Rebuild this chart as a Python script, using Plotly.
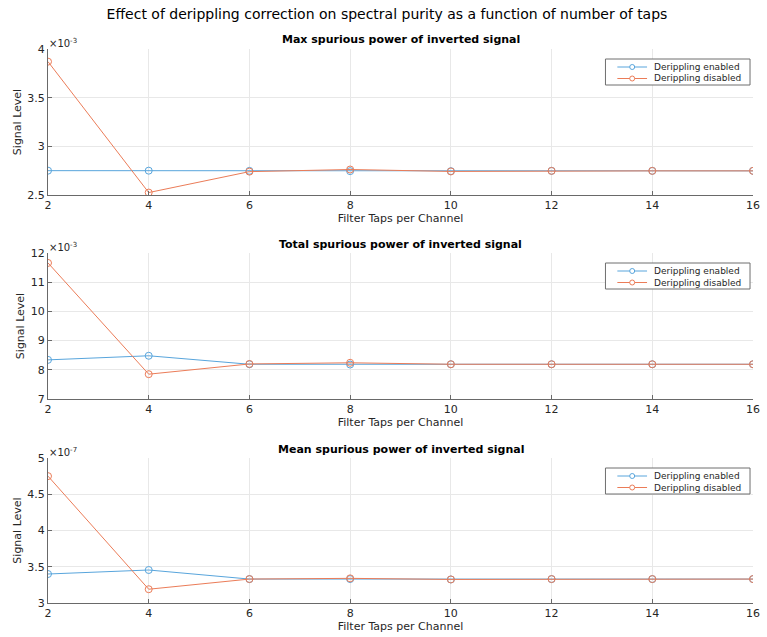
import plotly.graph_objects as go

taps = [2, 4, 6, 8, 10, 12, 14, 16]

# Max spurious power (x1e-3)
max_enabled = [2.750, 2.750, 2.748, 2.745, 2.745, 2.748, 2.748, 2.748]
max_disabled = [3.870, 2.525, 2.740, 2.762, 2.742, 2.748, 2.748, 2.748]
# Total spurious power (x1e-3)
tot_enabled = [8.34, 8.48, 8.19, 8.18, 8.19, 8.19, 8.19, 8.19]
tot_disabled = [11.66, 7.85, 8.20, 8.24, 8.19, 8.19, 8.19, 8.19]
# Mean spurious power (x1e-7)
mean_enabled = [3.40, 3.455, 3.33, 3.33, 3.325, 3.33, 3.33, 3.33]
mean_disabled = [4.75, 3.19, 3.33, 3.34, 3.325, 3.33, 3.33, 3.33]

titles = ["Max spurious power of inverted signal",
          "Total spurious power of inverted signal",
          "Mean spurious power of inverted signal"]
exponents = ["-3", "-3", "-7"]
yranges = [[2.5, 4], [7, 12], [3, 5]]
ytickvals = [[2.5, 3, 3.5, 4], [7, 8, 9, 10, 11, 12], [3, 3.5, 4, 4.5, 5]]
yticktext = [["2.5", "3", "3.5", "4"], ["7", "8", "9", "10", "11", "12"], ["3", "3.5", "4", "4.5", "5"]]
xticks = [2, 4, 6, 8, 10, 12, 14, 16]
legend_names = ["Derippling enabled", "Derippling disabled"]

series = [(max_enabled, max_disabled), (tot_enabled, tot_disabled), (mean_enabled, mean_disabled)]

BLUE = "rgb(88,165,220)"
ORANGE = "rgb(235,124,88)"
FONT = "DejaVu Sans"
TXT = "rgb(38,38,38)"
AX = "rgb(105,105,105)"
GRID = "rgb(232,232,232)"

W, H = 767, 637
AX_L, AX_R = 48, 760           # x of plot area
tops = [49, 253, 458]           # y of axis tops
bots = [195, 399, 603]          # y of axis bottoms
L = AX_L
R = W - AX_R
T = tops[0]
B = H - bots[2]
pw = W - L - R
ph = H - T - B

def sx(x):  # pixel x -> paper
    return (x - L) / pw

def sy(y):  # pixel y -> paper
    return (H - B - y) / ph

fig = go.Figure()
layout = dict(
    width=W, height=H,
    margin=dict(l=L, r=R, t=T, b=B),
    paper_bgcolor="white", plot_bgcolor="white",
    font=dict(family=FONT, size=11, color=TXT),
    showlegend=False,
)
annotations = []
shapes = []
colors = [BLUE, ORANGE]
for i in range(3):
    n = i + 1
    xa = "x" if n == 1 else f"x{n}"
    ya = "y" if n == 1 else f"y{n}"
    for k, vals in enumerate(series[i]):
        fig.add_trace(go.Scatter(x=taps, y=vals, mode="lines+markers", name=legend_names[k],
                                 line=dict(color=colors[k], width=1),
                                 marker=dict(symbol="circle-open", size=7, color=colors[k],
                                             line=dict(width=1)),
                                 xaxis=xa, yaxis=ya))
    xkey = "xaxis" if n == 1 else f"xaxis{n}"
    ykey = "yaxis" if n == 1 else f"yaxis{n}"
    layout[xkey] = dict(domain=[0, 1], anchor=ya, range=[2, 16], tickvals=xticks,
                        showgrid=True, gridcolor=GRID, zeroline=False,
                        showline=True, linecolor=AX, linewidth=1, mirror=False,
                        ticks="inside", ticklen=4, tickcolor=AX,
                        tickfont=dict(size=11, color=TXT),
                        title=dict(text="Filter Taps per Channel", standoff=0,
                                   font=dict(size=11, color=TXT)))
    layout[ykey] = dict(domain=[sy(bots[i]), sy(tops[i])], anchor=xa, range=yranges[i],
                        tickvals=ytickvals[i], ticktext=yticktext[i],
                        showgrid=True, gridcolor=GRID, zeroline=False,
                        showline=True, linecolor=AX, linewidth=1, mirror=False,
                        ticks="inside", ticklen=4, tickcolor=AX,
                        tickfont=dict(size=11, color=TXT),
                        title=dict(text="Signal Level", standoff=3,
                                   font=dict(size=11, color=TXT)))
    annotations.append(dict(text=f"<b>{titles[i]}</b>", x=0.5, y=sy(tops[i] - 9), xref="paper", yref="paper",
                            xanchor="center", yanchor="middle", showarrow=False,
                            font=dict(size=11, color="black")))
    annotations.append(dict(text=f"\u00d710<sup>{exponents[i]}</sup>", x=sx(AX_L - 1), y=sy(tops[i] - 6),
                            xref="paper", yref="paper",
                            xanchor="left", yanchor="middle", showarrow=False,
                            font=dict(size=10, color=TXT)))
    # legend box drawn inside each panel
    bx0, bx1 = 611, 757
    by0 = tops[i] + 10
    by1 = by0 + 26
    shapes.append(dict(type="rect", xref="paper", yref="paper",
                       x0=sx(bx0), x1=sx(bx1), y0=sy(by1), y1=sy(by0),
                       line=dict(color="rgb(110,110,110)", width=1), fillcolor="white", layer="above"))
    for k in range(2):
        cy = by0 + 8 + 11.5 * k
        shapes.append(dict(type="line", xref="paper", yref="paper",
                           x0=sx(bx0 + 12), x1=sx(bx0 + 42), y0=sy(cy), y1=sy(cy),
                           line=dict(color=colors[k], width=1), layer="above"))
        shapes.append(dict(type="circle", xref="paper", yref="paper",
                           x0=sx(bx0 + 27 - 2.5), x1=sx(bx0 + 27 + 2.5), y0=sy(cy + 2.5), y1=sy(cy - 2.5),
                           line=dict(color=colors[k], width=1), fillcolor="white", layer="above"))
        annotations.append(dict(text=legend_names[k], x=sx(bx0 + 47), y=sy(cy), xref="paper", yref="paper",
                                xanchor="left", yanchor="middle", showarrow=False,
                                font=dict(size=9, color=TXT)))

layout["annotations"] = annotations
layout["shapes"] = shapes
layout["title"] = dict(text="Effect of derippling correction on spectral purity as a function of number of taps",
                       x=387 / W, xref="container", xanchor="center",
                       y=1 - 14 / H, yref="container", yanchor="middle",
                       font=dict(size=14, color="black"))
fig.update_layout(**layout)
fig.write_html("out.html", config={"displayModeBar": False},
               post_script="document.body.style.margin='0';document.body.style.overflow='hidden';")
